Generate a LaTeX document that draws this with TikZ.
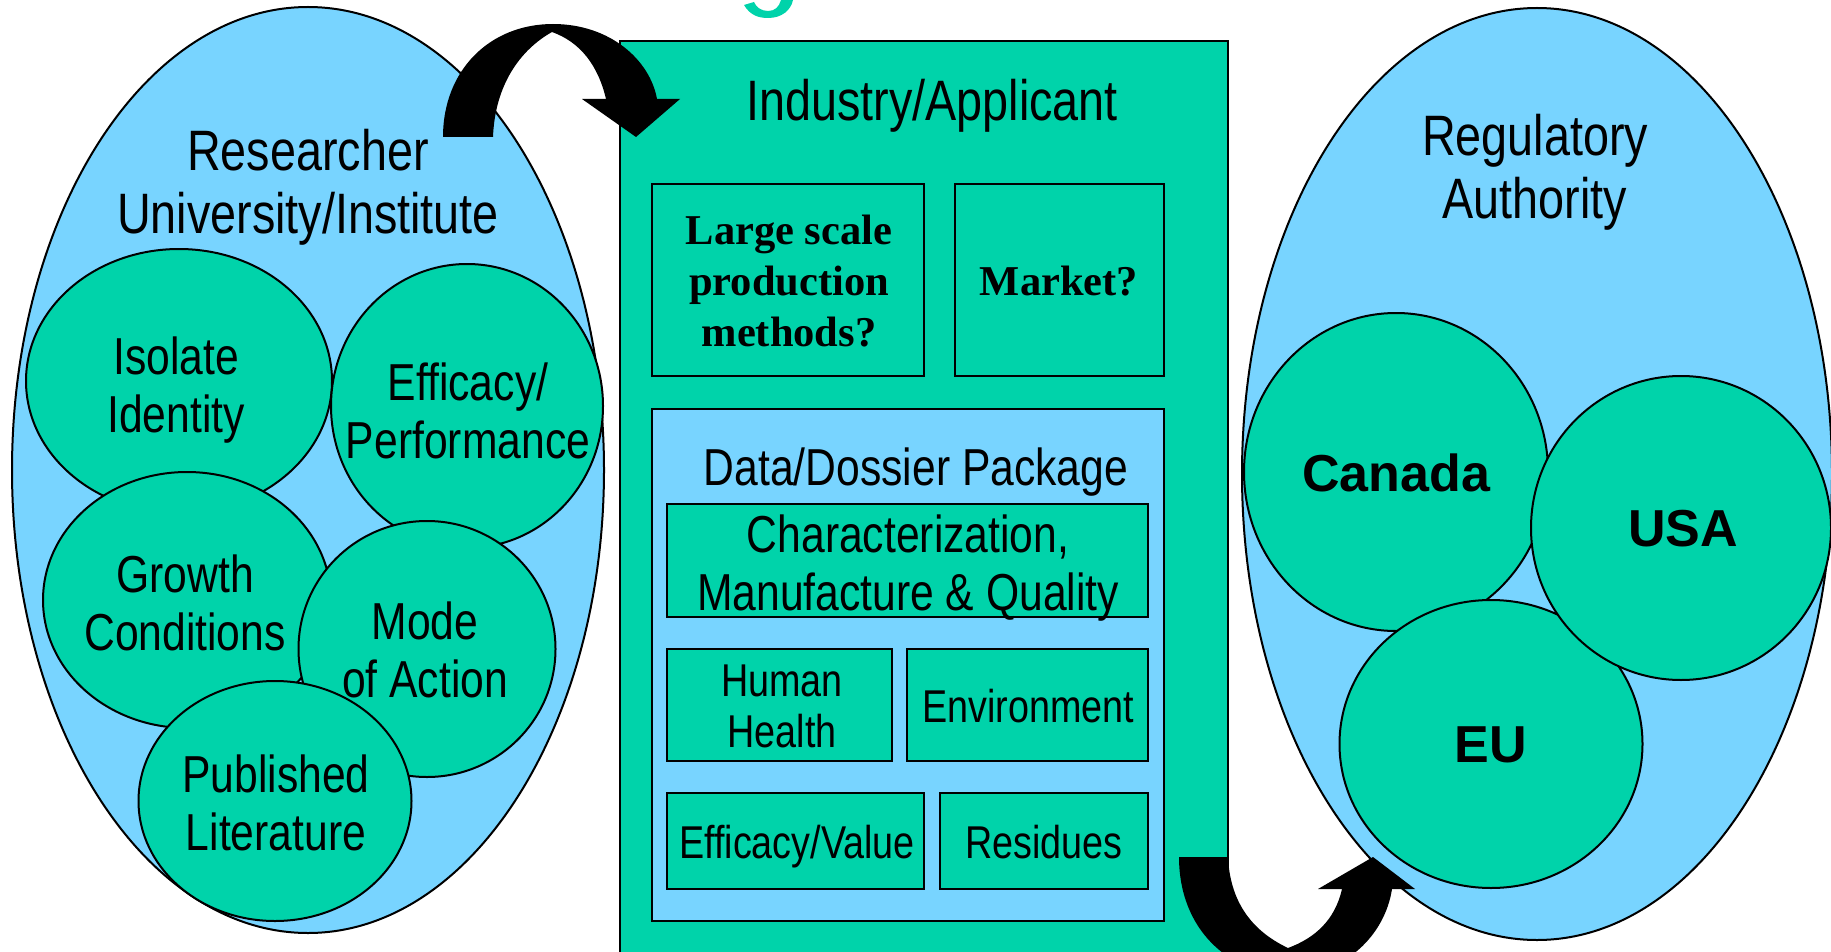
\documentclass[tikz,border=0pt]{standalone}
\usepackage{fontspec}
\setmainfont{Liberation Sans}[FakeStretch=0.82]
\newfontfamily\widesans{Liberation Sans}
\newfontfamily\romanbold{Liberation Serif}
\usetikzlibrary{shapes.geometric}

\definecolor{tealfill}{RGB}{0,211,170}
\definecolor{skyfill}{RGB}{120,212,255}

\tikzset{
  outline/.style={draw=black, line width=2pt},
  oval/.style={ellipse, outline, fill=skyfill, inner sep=0pt},
  blob/.style={ellipse, outline, fill=tealfill, inner sep=0pt},
  panel/.style={rectangle, outline, fill=tealfill, inner sep=0pt},
  bluepanel/.style={rectangle, outline, fill=skyfill, inner sep=0pt},
  hdr/.style={align=center, inner sep=0pt, font=\fontsize{57}{63}\selectfont},
  lbl/.style={align=center, inner sep=0pt, font=\fontsize{52}{58}\selectfont},
  sml/.style={align=center, inner sep=0pt, font=\fontsize{46}{51}\selectfont},
  ser/.style={align=center, inner sep=0pt, font=\romanbold\bfseries\fontsize{42.5}{51}\selectfont},
  nation/.style={inner sep=0pt, font=\widesans\bfseries\fontsize{52}{60}\selectfont},
  bigarrow/.style={fill=black, draw=none},
}

\begin{document}
\begin{tikzpicture}[x=1pt, y=-1pt]
\useasboundingbox (0,0) rectangle (1831,952);
\begin{scope}
\clip (0,0) rectangle (1831,952);

% ---------- Researcher side ----------
\node[oval, minimum width=592pt, minimum height=926pt] (lab) at (308,470) {};
\node[hdr] (labt) at (308,187) {Researcher\\University/Institute};

\node[blob, minimum width=306pt, minimum height=264pt] (iso) at (179,381) {};
\node[lbl] (isot) at (176,390) {Isolate\\Identity};
\node[blob, minimum width=272pt, minimum height=284pt] (eff) at (467,406) {};
\node[lbl] (efft) at (468,411) {Efficacy/\\Performance};
\node[blob, minimum width=288pt, minimum height=256pt] (gro) at (187,600) {};
\node[lbl] (grot) at (185,603) {Growth\\Conditions};
\node[blob, minimum width=257pt, minimum height=256pt] (mod) at (427,649) {};
\node[lbl] (modt) at (425,650) {Mode\\of Action};
\node[blob, minimum width=273pt, minimum height=240pt] (pub) at (275,801) {};
\node[lbl] (pubt) at (276,803) {Published\\Literature};

% ---------- Regulatory side ----------
\node[oval, minimum width=590pt, minimum height=932pt] (reg) at (1537,474) {};
\node[hdr] (regt) at (1535,172) {Regulatory\\Authority};

\node[blob, minimum width=304pt, minimum height=318pt] (can) at (1396,472) {};
\node[nation] (cant) at (1396,473) {Canada};
\node[blob, minimum width=303pt, minimum height=288pt] (eu) at (1491,744) {};
\node[nation] (eut) at (1491,745) {EU};
\node[blob, minimum width=300pt, minimum height=304pt] (usa) at (1681,528) {};
\node[nation] (usat) at (1683,529) {USA};

% ---------- Industry panel ----------
\node[panel, minimum width=608pt, minimum height=958pt] (ind) at (924,520) {};
\node[hdr] (indt) at (932,106) {Industry/Applicant};

\node[panel, minimum width=272pt, minimum height=192pt] (lsp) at (788,280) {};
\node[ser] (lspt) at (789,281) {Large scale\\production\\methods?};
\node[panel, minimum width=209pt, minimum height=192pt] (mkt) at (1059.5,280) {};
\node[ser] (mktt) at (1059,281) {Market?};

\node[bluepanel, minimum width=512pt, minimum height=512pt] (dos) at (908,665) {};
\node[lbl] (dost) at (916,472) {Data/Dossier Package};

\node[panel, minimum width=481pt, minimum height=113pt] (cmq) at (907.5,560.5) {};
\node[lbl] (cmqt) at (908,568) {Characterization,\\Manufacture \& Quality};
\node[panel, minimum width=225pt, minimum height=112pt] (hh) at (779.5,705) {};
\node[sml] (hht) at (782,706) {Human\\Health};
\node[panel, minimum width=241pt, minimum height=112pt] (env) at (1027.5,705) {};
\node[sml] (envt) at (1028,706) {Environment};
\node[panel, minimum width=257pt, minimum height=96pt] (ev) at (795.5,841) {};
\node[sml] (evt) at (797,847) {Efficacy/Value};
\node[panel, minimum width=208pt, minimum height=96pt] (res) at (1044,841) {};
\node[sml] (rest) at (1044,842) {Residues};

% ---------- curved block arrows ----------
% researcher -> industry
\fill[bigarrow] (443,137) .. controls (443,70) and (490,24) .. (553,24)
  .. controls (610,24) and (650,60) .. (657,99)
  -- (680,99) -- (636,137) -- (582,99) -- (606,99)
  .. controls (598,65) and (580,42) .. (552,32)
  .. controls (520,50) and (495,85) .. (493,137) -- cycle;
% industry -> regulator
\fill[bigarrow] (1179,857) -- (1228,857)
  .. controls (1230,900) and (1250,930) .. (1288,948)
  .. controls (1315,938) and (1335,920) .. (1342,889)
  -- (1318,889) -- (1373,857) -- (1415,889) -- (1392,889)
  .. controls (1385,935) and (1345,975) .. (1290,975)
  .. controls (1230,975) and (1179,930) .. (1179,857) -- cycle;

% tail stroke of the heading letter that runs off the top edge
\fill[tealfill] (744,5) .. controls (750,15) and (758,18) .. (768,18)
  .. controls (782,18) and (791,10) .. (793,0)
  -- (781,0) .. controls (779,7) and (775,11) .. (768,11)
  .. controls (761,11) and (756,7) .. (754,2) -- cycle;
\end{scope}
\end{tikzpicture}
\end{document}
